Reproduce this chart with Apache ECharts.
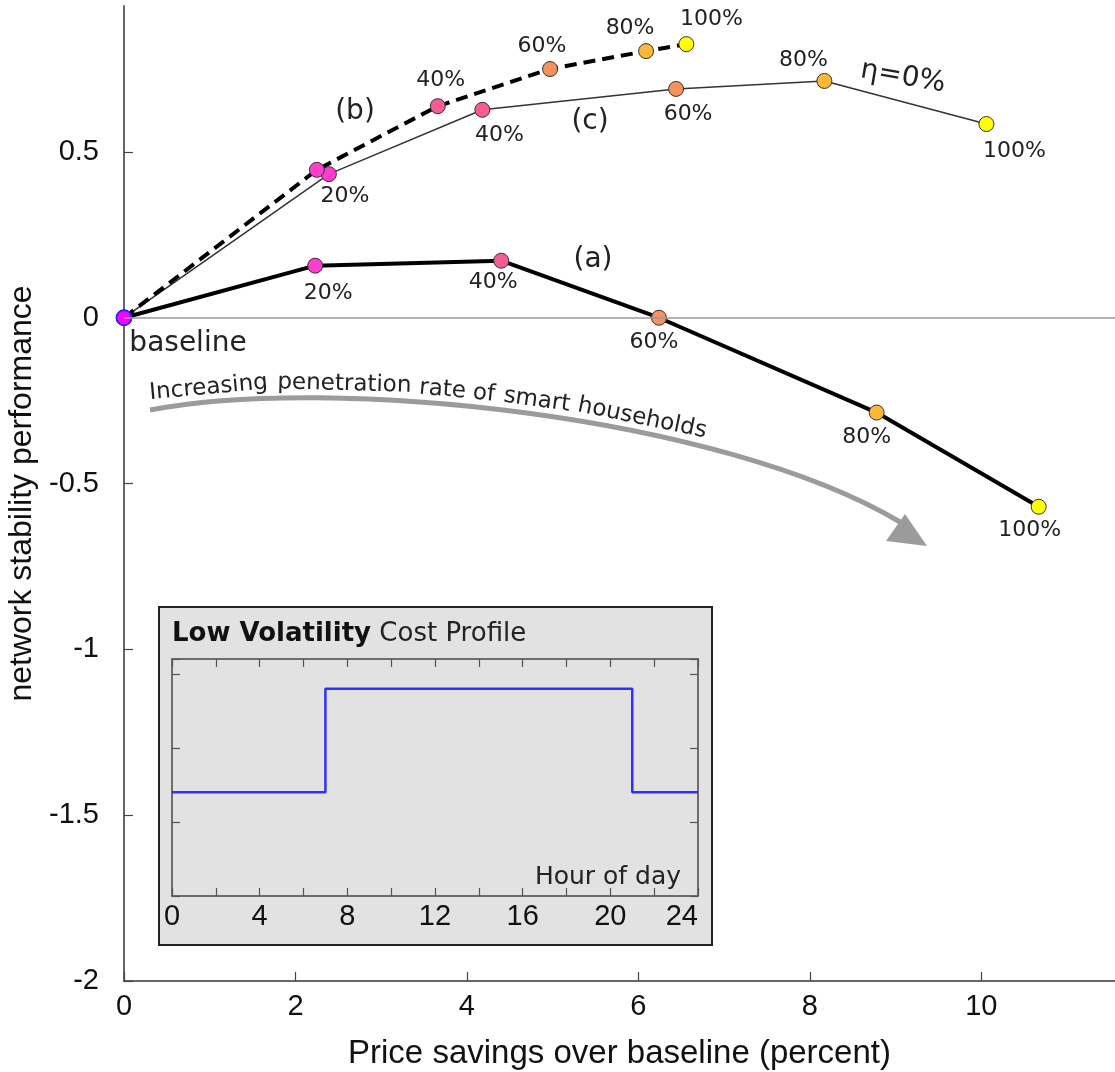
<!DOCTYPE html>
<html><head><meta charset="utf-8">
<script src="https://cdn.jsdelivr.net/npm/echarts@6/dist/echarts.min.js"></script>
<style>html,body{margin:0;padding:0;background:#fff}#c{width:1115px;height:1072px}</style>
</head><body><div id="c"></div>
<script>
// ---- data ----
const penetration = ['baseline', '20%', '40%', '60%', '80%', '100%'];
const savingsA = [0, 2.23, 4.40, 6.24, 8.78, 10.67];
const stabilityA = [0, 0.157, 0.172, 0.0, -0.286, -0.57];
const savingsB = [0, 2.25, 3.66, 4.97, 6.09, 6.56];
const stabilityB = [0, 0.446, 0.638, 0.75, 0.804, 0.825];
const savingsC = [0, 2.39, 4.18, 6.44, 8.17, 10.06];
const stabilityC = [0, 0.433, 0.627, 0.69, 0.714, 0.584];
const xTickValues = [0, 2, 4, 6, 8, 10];
const yTickValues = [-2, -1.5, -1, -0.5, 0, 0.5];
const profileHours = [0, 7, 21, 24];
const profileCost = [1.4, 2.8, 1.4, 1.4];
const hourTickLabels = [0, 4, 8, 12, 16, 20, 24];

// ---- styles ----
const levelColors = ['#ff00ff', '#ff3dcc', '#f25e94', '#f79160', '#f9b838', '#ffff00'];
const offA = [[64, 26], [13, 28], [-8, 22], [-5, 25], [-10, 25], [-9, 24]];
const offB = [null, null, [3, -26], [-8, -23], [-16, -23], [25, -25]];
const offC = [null, [16, 22], [17, 25], [12, 25], [-21, -21], [28, 27]];
const LAB = '"DejaVu Sans", sans-serif';
const TICK = '"Liberation Sans", Arial, sans-serif';

function build(xs, ys, offs) {
  return xs.map((x, i) => ({
    value: [x, ys[i]],
    itemStyle: { color: levelColors[i], borderColor: i === 0 ? '#2222ff' : '#333', borderWidth: i === 0 ? 1.5 : 1 },
    label: offs[i] ? {
      show: true, position: 'inside', offset: offs[i], formatter: penetration[i],
      color: '#222', fontFamily: LAB, fontSize: i === 0 ? 28 : 22, textBorderWidth: 0
    } : { show: false }
  }));
}

const chart = echarts.init(document.getElementById('c'), null, { renderer: 'canvas' });

// text along the curved arrow
const P = [[150, 410], [330, 375], [720, 415], [900, 522]];
function bez(t) {
  const u = 1 - t;
  return [u*u*u*P[0][0] + 3*u*u*t*P[1][0] + 3*u*t*t*P[2][0] + t*t*t*P[3][0],
          u*u*u*P[0][1] + 3*u*u*t*P[1][1] + 3*u*t*t*P[2][1] + t*t*t*P[3][1]];
}
const samples = [];
let acc = 0, prev = bez(0);
for (let i = 0; i <= 600; i++) {
  const p = bez(i / 600);
  acc += Math.hypot(p[0] - prev[0], p[1] - prev[1]);
  samples.push({ p, s: acc });
  prev = p;
}
function atS(s) {
  for (let i = 1; i < samples.length; i++) {
    if (samples[i].s >= s) {
      const a = samples[i - 1].p, b = samples[i].p;
      const dx = b[0] - a[0], dy = b[1] - a[1], L = Math.hypot(dx, dy) || 1;
      return { p: a, tx: dx / L, ty: dy / L };
    }
  }
  return { p: samples[samples.length - 1].p, tx: 1, ty: 0 };
}
const curveText = 'Increasing penetration rate of smart households';
const cfont = '23px "DejaVu Sans"';
const mctx = document.createElement('canvas').getContext('2d');
mctx.font = cfont;
const spaceW = mctx.measureText(' ').width;
let cursor = 2;
const curveWords = curveText.split(' ').map(w => {
  const wd = mctx.measureText(w).width;
  const r = atS(cursor + wd / 2);
  cursor += wd + spaceW;
  const off = 14;
  return {
    type: 'text', x: r.p[0] + r.ty * off, y: r.p[1] - r.tx * off,
    rotation: -Math.atan2(r.ty, r.tx), z: 5,
    style: { text: w, font: cfont, fill: '#222', align: 'center', verticalAlign: 'middle', textAlign: 'center', textVerticalAlign: 'middle' }
  };
});

// inset title layout
const boldFont = 'bold 26px "DejaVu Sans"';
const regFont = '26px "DejaVu Sans"';
mctx.font = boldFont;
const boldW = mctx.measureText('Low Volatility').width;
mctx.font = regFont;
const regSpace = mctx.measureText(' ').width;

function txt(text, x, y, size, extra) {
  return Object.assign({
    type: 'text', x, y, z: 5,
    style: { text, font: size + 'px "DejaVu Sans"', fill: '#222', align: 'center', verticalAlign: 'middle', textAlign: 'center', textVerticalAlign: 'middle' }
  }, extra || {});
}

const option = {
  backgroundColor: '#fff',
  animation: false,
  grid: [
    { left: 124, right: 0, top: 6, bottom: 91, containLabel: false, outerBoundsMode: 'none' },
    { left: 172, top: 659, width: 526, height: 237, show: true, borderColor: '#666', borderWidth: 1.5,
      backgroundColor: 'transparent', containLabel: false, outerBoundsMode: 'none' }
  ],
  xAxis: [
    {
      gridIndex: 0, type: 'value', min: 0, max: 11.56, interval: 2,
      name: 'Price savings over baseline (percent)', nameLocation: 'middle', nameGap: 56,
      nameTextStyle: { fontFamily: TICK, fontSize: 33, color: '#111' },
      axisLine: { onZero: false, lineStyle: { color: '#666', width: 2 } },
      axisTick: { inside: true, length: 9, lineStyle: { color: '#444', width: 1.2 }, customValues: xTickValues },
      axisLabel: { fontFamily: TICK, fontSize: 29, color: '#111', margin: 11, customValues: xTickValues,
        formatter: v => (xTickValues.indexOf(v) >= 0 ? String(v) : '') },
      splitLine: { show: false }
    },
    {
      gridIndex: 1, type: 'value', min: 0, max: 24, interval: 2, position: 'bottom',
      axisLine: { onZero: false, lineStyle: { color: '#666', width: 1.5 } },
      axisTick: { inside: true, length: 8, lineStyle: { color: '#555', width: 1.2 } },
      axisLabel: { fontFamily: TICK, fontSize: 29, color: '#111', margin: 6, alignMaxLabel: 'right',
        formatter: v => (hourTickLabels.indexOf(v) >= 0 ? String(v) : '') },
      splitLine: { show: false }
    },
    {
      gridIndex: 1, type: 'value', min: 0, max: 24, interval: 2, position: 'top',
      axisLine: { onZero: false, lineStyle: { color: '#666', width: 1.5 } },
      axisTick: { inside: true, length: 8, lineStyle: { color: '#555', width: 1.2 } },
      axisLabel: { show: false }, splitLine: { show: false }
    }
  ],
  yAxis: [
    {
      gridIndex: 0, type: 'value', min: -2, max: 0.94, interval: 0.5,
      name: 'network stability performance', nameLocation: 'middle', nameGap: 86, nameMoveOverlap: false,
      nameTextStyle: { fontFamily: TICK, fontSize: 32, color: '#111' },
      axisLine: { onZero: false, lineStyle: { color: '#666', width: 2 } },
      axisTick: { inside: true, length: 9, lineStyle: { color: '#444', width: 1.2 }, customValues: yTickValues },
      axisLabel: { fontFamily: TICK, fontSize: 29, color: '#111', margin: 25, customValues: yTickValues,
        formatter: v => (yTickValues.indexOf(v) >= 0 ? String(v) : '') },
      splitLine: { show: false }
    },
    {
      gridIndex: 1, type: 'value', min: 0, max: 3.2, interval: 1, position: 'left',
      axisLine: { onZero: false, lineStyle: { color: '#666', width: 1.5 } },
      axisTick: { inside: true, length: 8, lineStyle: { color: '#555', width: 1.2 } },
      axisLabel: { show: false }, splitLine: { show: false }
    },
    {
      gridIndex: 1, type: 'value', min: 0, max: 3.2, interval: 1, position: 'right',
      axisLine: { onZero: false, lineStyle: { color: '#666', width: 1.5 } },
      axisTick: { inside: true, length: 8, lineStyle: { color: '#555', width: 1.2 } },
      axisLabel: { show: false }, splitLine: { show: false }
    }
  ],
  series: [
    {
      name: '(c)', type: 'line', xAxisIndex: 0, yAxisIndex: 0,
      data: build(savingsC, stabilityC, offC), symbol: 'circle', symbolSize: 15,
      lineStyle: { color: '#333', width: 1.5 }
    },
    {
      name: '(a)', type: 'line', xAxisIndex: 0, yAxisIndex: 0,
      data: build(savingsA, stabilityA, offA), symbol: 'circle', symbolSize: 15,
      lineStyle: { color: '#000', width: 4 },
      markLine: { silent: true, symbol: 'none', label: { show: false }, animation: false,
        lineStyle: { color: '#999', width: 1.5, type: 'solid' }, data: [{ yAxis: 0 }] }
    },
    {
      name: '(b)', type: 'line', xAxisIndex: 0, yAxisIndex: 0,
      data: build(savingsB, stabilityB, offB), symbol: 'circle', symbolSize: 15,
      lineStyle: { color: '#000', width: 4, type: [12, 7] }
    },
    {
      name: 'cost', type: 'line', xAxisIndex: 1, yAxisIndex: 1, step: 'end',
      data: profileHours.map((h, i) => [h, profileCost[i]]), showSymbol: false, symbol: 'none',
      lineStyle: { color: '#2f2fff', width: 2.5 }
    }
  ],
  graphic: [
    { type: 'rect', z: -10, shape: { x: 159, y: 607, width: 553, height: 338 },
      style: { fill: '#e2e2e2', stroke: '#222', lineWidth: 2 } },
    { type: 'text', x: 172, y: 634, z: 5, style: { text: 'Low Volatility', font: boldFont, fill: '#111', align: 'left', verticalAlign: 'middle', textAlign: 'left', textVerticalAlign: 'middle' } },
    { type: 'text', x: 172 + boldW + regSpace, y: 634, z: 5, style: { text: 'Cost Profile', font: regFont, fill: '#222', align: 'left', verticalAlign: 'middle', textAlign: 'left', textVerticalAlign: 'middle' } },
    txt('Hour of day', 608, 877, 25),
    txt('(b)', 355, 112, 28),
    txt('(c)', 590, 122, 28),
    txt('(a)', 593, 260, 28),
    txt('η=0%', 903, 77, 28, { rotation: -0.17 }),
    { type: 'bezierCurve', z: 4, shape: { x1: P[0][0], y1: P[0][1], cpx1: P[1][0], cpy1: P[1][1], cpx2: P[2][0], cpy2: P[2][1], x2: P[3][0], y2: P[3][1] },
      style: { stroke: '#9b9b9b', lineWidth: 5, fill: null } },
    { type: 'polygon', z: 4, shape: { points: [[927, 546], [886, 541], [905, 514]] }, style: { fill: '#9b9b9b' } }
  ].concat(curveWords)
};
chart.setOption(option);
</script></body></html>
